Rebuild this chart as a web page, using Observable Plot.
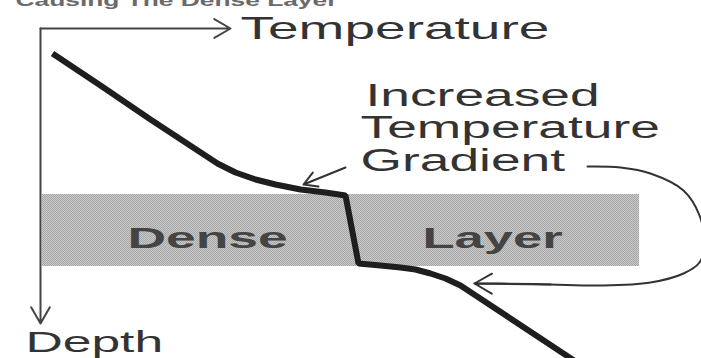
<!DOCTYPE html>
<html>
<head>
<meta charset="utf-8">
<script src="https://cdn.jsdelivr.net/npm/d3@7"></script>
<script src="https://cdn.jsdelivr.net/npm/@observablehq/plot@0.6"></script>
<style>
html, body { margin: 0; padding: 0; background: #fff; overflow: hidden; }
#chart { width: 701px; height: 358px; overflow: hidden; }
</style>
</head>
<body>
<div id="chart"></div>
<script>
// ---- Temperature profile (schematic units: temperature → right, depth → down)
const profileTemperature = [52, 100, 150, 217, 235, 255, 275, 300, 325, 345, 358, 380, 400, 415, 430, 445, 460, 575];
const profileDepth       = [53, 85, 119, 163, 172, 179, 184, 189, 192, 195, 263, 265, 267, 269, 273, 278, 285, 361];

// ---- Dense layer band
const layerTemperature = [42, 639];
const layerDepth = [194, 266];

// ---- Axes (origin and arrow ends)
const axisStartTemperature = [40, 40];
const axisStartDepth = [28, 28];
const axisEndTemperature = [230, 40];
const axisEndDepth = [28, 323];

// ---- Annotation arrow (to the upper knee)
const pointerFromTemperature = [345], pointerFromDepth = [167];
const pointerToTemperature = [303], pointerToDepth = [184];

// ---- Looping annotation arrow (to the lower knee)
const loopTemperature = [587, 620, 650, 683, 699, 704, 699, 683, 650, 600, 550, 500, 474];
const loopDepth       = [166, 167, 173, 190, 215, 245, 262, 273, 282, 285, 284, 283, 283];

// ---- Text
const titleText = ["Causing The Dense Layer"];
const titleTemperature = [15], titleDepth = [5];

const xAxisLabel = ["Temperature"], xAxisLabelTemperature = [240], xAxisLabelDepth = [38];
const yAxisLabel = ["Depth"], yAxisLabelTemperature = [25], yAxisLabelDepth = [351];

const noteText = ["Increased", "Temperature", "Gradient"];
const noteTemperature = [365, 360, 360];
const noteDepth = [105, 137, 170];

const layerText = ["Dense", "Layer"];
const layerTextTemperature = [127, 422];
const layerTextDepth = [247, 247];

// ---- Build tables
const profile = profileTemperature.map((t, i) => ({t, d: profileDepth[i]}));
const layer = [{t1: layerTemperature[0], t2: layerTemperature[1], d1: layerDepth[0], d2: layerDepth[1]}];
const axes = axisStartTemperature.map((t, i) => ({t1: t, d1: axisStartDepth[i], t2: axisEndTemperature[i], d2: axisEndDepth[i]}));
const pointer = pointerFromTemperature.map((t, i) => ({t1: t, d1: pointerFromDepth[i], t2: pointerToTemperature[i], d2: pointerToDepth[i]}));
const loop = loopTemperature.map((t, i) => ({t, d: loopDepth[i]}));
const loopHead = [{t1: loopTemperature[loopTemperature.length - 3], d1: loopDepth[loopDepth.length - 3],
                   t2: loopTemperature[loopTemperature.length - 1], d2: loopDepth[loopDepth.length - 1]}];
const rows = (texts, ts, ds) => texts.map((text, i) => ({text, t: ts[i], d: ds[i]}));
const notes = rows(noteText, noteTemperature, noteDepth);
const xLabel = rows(xAxisLabel, xAxisLabelTemperature, xAxisLabelDepth);
const yLabel = rows(yAxisLabel, yAxisLabelTemperature, yAxisLabelDepth);
const layerLabels = rows(layerText, layerTextTemperature, layerTextDepth);
const title = rows(titleText, titleTemperature, titleDepth);

const font = "'Liberation Sans', Arial, Helvetica, sans-serif";
const textOpts = {x: "t", y: "d", text: "text", textAnchor: "start", lineAnchor: "bottom", fontFamily: font};

const chart = Plot.plot({
  width: 701,
  height: 358,
  margin: 0,
  x: {domain: [0, 701], range: [0, 701], axis: null},
  y: {domain: [0, 358], range: [0, 358], axis: null},
  style: {background: "#fff", fontFamily: font},
  marks: [
    Plot.rect(layer, {x1: "t1", x2: "t2", y1: "d1", y2: "d2", fill: "#bababa"}),
    Plot.text(layerLabels, {...textOpts, fontSize: 30, fontWeight: "bold", fill: "#444"}),
    Plot.text(title, {...textOpts, fontSize: 17, fontWeight: "bold", fill: "#6a6a6a"}),
    Plot.arrow(axes, {x1: "t1", y1: "d1", x2: "t2", y2: "d2", stroke: "#444", strokeWidth: 2, headLength: 14, headAngle: 60}),
    Plot.arrow(pointer, {x1: "t1", y1: "d1", x2: "t2", y2: "d2", stroke: "#333", strokeWidth: 2, headLength: 15, headAngle: 60}),
    Plot.line(loop, {x: "t", y: "d", curve: "catmull-rom", stroke: "#333", strokeWidth: 2}),
    Plot.arrow(loopHead, {x1: "t1", y1: "d1", x2: "t2", y2: "d2", stroke: "#333", strokeWidth: 2, headLength: 15, headAngle: 60}),
    Plot.line(profile, {x: "t", y: "d", stroke: "#1e1e1e", strokeWidth: 6, strokeLinejoin: "miter", strokeLinecap: "butt"}),
    Plot.text(xLabel, {...textOpts, fontSize: 32, fill: "#333"}),
    Plot.text(yLabel, {...textOpts, fontSize: 30, fill: "#333"}),
    Plot.text(notes, {...textOpts, fontSize: 31, fill: "#333"})
  ]
});

document.getElementById("chart").appendChild(chart);

// halftone fill for the dense layer (as in the printed original)
const svg = d3.select(chart);
const defs = svg.insert("defs", ":first-child");
const pat = defs.append("pattern").attr("id", "halftone").attr("width", 2).attr("height", 2).attr("patternUnits", "userSpaceOnUse");
pat.append("rect").attr("width", 2).attr("height", 2).attr("fill", "#cacaca");
pat.append("rect").attr("width", 1).attr("height", 1).attr("fill", "#a6a6a6");
pat.append("rect").attr("x", 1).attr("y", 1).attr("width", 1).attr("height", 1).attr("fill", "#a6a6a6");
svg.selectAll("rect").filter(function() {
  return this.getAttribute("fill") === "#bababa" || (this.parentNode && this.parentNode.getAttribute && this.parentNode.getAttribute("fill") === "#bababa");
}).attr("fill", "url(#halftone)");

// the original lettering is wide: stretch glyphs horizontally about each text's anchor
const stretchFactor = {"Causing The Dense Layer": 1.55, "Dense": 1.78, "Layer": 1.75};
svg.selectAll("text").each(function() {
  const k = stretchFactor[this.textContent] || 1.72;
  const x = +(this.getAttribute("x") || 0), y = +(this.getAttribute("y") || 0);
  const prev = this.getAttribute("transform") || "";
  this.setAttribute("transform", `${prev} translate(${x},${y}) scale(${k},1) translate(${-x},${-y})`.trim());
});
</script>
</body>
</html>
